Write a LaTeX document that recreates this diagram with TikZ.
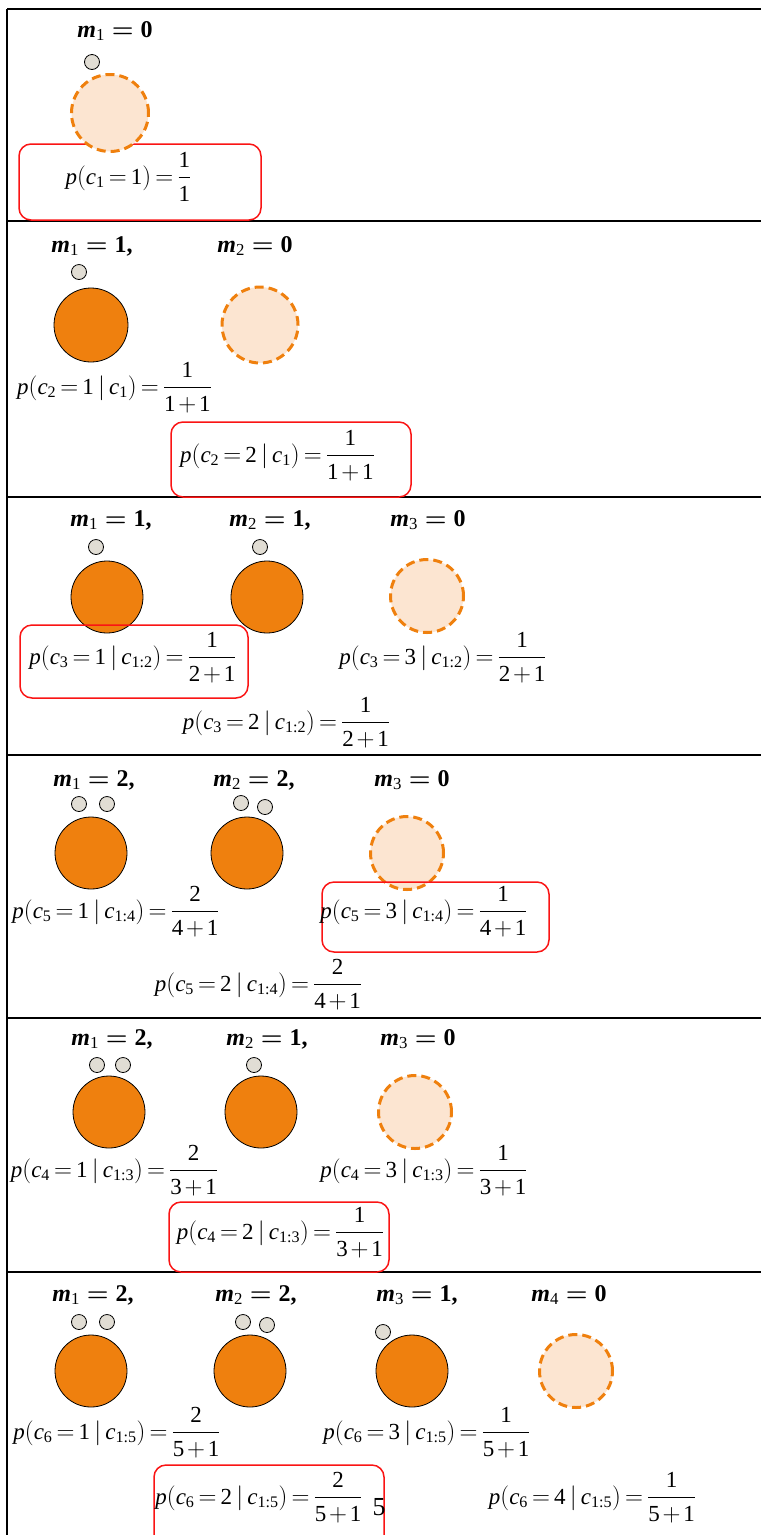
\documentclass[tikz,border=0pt]{standalone}
\usepackage{amsmath}
\usepackage{fontspec}
\setmainfont{Liberation Serif}
\definecolor{orng}{RGB}{239,128,14}
\definecolor{peach}{RGB}{252,229,209}
\definecolor{pebble}{RGB}{225,221,212}
\definecolor{boxred}{RGB}{250,20,20}
\newcommand{\I}[1]{\text{\itshape #1}}
\newcommand{\T}[1]{\text{#1}}
\newcommand{\hd}[2]{$\text{\bfseries\itshape m}_{\T{#1}}\mathrel{\boldsymbol{=}}\text{\bfseries #2}$}
\newcommand{\pc}[5]{$\thickmuskip=3mu\medmuskip=2mu\I{p}(\I{c}_{\T{#1}}=\T{#2}\,|\,\I{c}_{\T{#3}})=\dfrac{\T{#4}}{\T{#5}+\T{1}}$}
\tikzset{
 frame/.style={line width=1.2pt, black},
 solidc/.style={circle, draw=black, line width=0.8pt, fill=orng, inner sep=0pt, minimum size=72pt},
 newc/.style={circle, draw=orng, fill=peach, dash pattern=on 9pt off 5pt, line width=3pt, inner sep=0pt, minimum size=73pt},
 dot/.style={circle, draw=black, line width=0.8pt, fill=pebble, inner sep=0pt, minimum size=15pt},
 rbox/.style={draw=boxred, line width=1.5pt, rounded corners=12pt},
 lab/.style={font=\fontsize{24}{28}\selectfont, anchor=base, inner sep=0pt},
 eq/.style={font=\fontsize{23}{28}\selectfont, anchor=base, inner sep=0pt}
}
\begin{document}
\begin{tikzpicture}[x=1pt,y=-1pt]
\useasboundingbox (0,0) rectangle (761,1535);
% frame
\draw[frame] (7,9) -- (7,1535);
\foreach \yy in {9,221,497,755,1018,1272} \draw[frame] (7,\yy) -- (761,\yy);

% panel 1
\node[lab] (h11) at (115,37) {\hd{1}{0}};
\draw[rbox] (19,144) rectangle (261,220);
\node[dot] (d11) at (92,62) {};
\node[newc, minimum size=77pt] (n11) at (110,113) {};
\node[eq] (e11) at (128.5,184) {$\thickmuskip=3mu\I{p}(\I{c}_{\T{1}}=\T{1})=\dfrac{\T{1}}{\T{1}}$};

% panel 2
\node[lab] (h21) at (92,252) {\hd{1}{1,}};
\node[lab] (h22) at (255,252) {\hd{2}{0}};
\node[dot] (d21) at (79,272) {};
\node[solidc, minimum size=74pt] (s21) at (91,325) {};
\node[newc, minimum size=76pt] (n22) at (260,325) {};
\node[eq] (e21) at (114.5,394) {\pc{2}{1}{1}{1}{1}};
\draw[rbox] (171,422) rectangle (411,497);
\node[eq] (e22) at (277.5,462) {\pc{2}{2}{1}{1}{1}};

% panel 3
\node[lab] (h31) at (111,526) {\hd{1}{1,}};
\node[lab] (h32) at (270,526) {\hd{2}{1,}};
\node[lab] (h33) at (428,526) {\hd{3}{0}};
\node[dot] (d31) at (96,547) {};
\node[dot] (d32) at (260,547) {};
\node[solidc] (s31) at (107,597) {};
\node[solidc] (s32) at (267,597) {};
\node[newc] (n33) at (427,596) {};
\draw[rbox] (20,625) rectangle (248,698);
\node[eq] (e31) at (133,664) {\pc{3}{1}{1:2}{1}{2}};
\node[eq] (e33) at (443,664) {\pc{3}{3}{1:2}{1}{2}};
\node[eq] (e32) at (286.5,729) {\pc{3}{2}{1:2}{1}{2}};

% panel 4
\node[lab] (h41) at (94,786) {\hd{1}{2,}};
\node[lab] (h42) at (254,786) {\hd{2}{2,}};
\node[lab] (h43) at (412,786) {\hd{3}{0}};
\node[dot] (d41) at (79,804) {};
\node[dot] (d42) at (107,804) {};
\node[dot] (d43) at (241,803) {};
\node[dot] (d44) at (265,807) {};
\node[solidc] (s41) at (91,853) {};
\node[solidc] (s42) at (247,853) {};
\node[newc] (n43) at (407,853) {};
\draw[rbox] (322,882) rectangle (549,952);
\node[eq] (e41) at (116,918) {\pc{5}{1}{1:4}{2}{4}};
\node[eq] (e43) at (424,918) {\pc{5}{3}{1:4}{1}{4}};
\node[eq] (e42) at (258.5,991) {\pc{5}{2}{1:4}{2}{4}};

% panel 5
\node[lab] (h51) at (112,1045) {\hd{1}{2,}};
\node[lab] (h52) at (267,1045) {\hd{2}{1,}};
\node[lab] (h53) at (418,1045) {\hd{3}{0}};
\node[dot] (d51) at (97,1065) {};
\node[dot] (d52) at (123,1065) {};
\node[dot] (d53) at (254,1065) {};
\node[solidc] (s51) at (109,1112) {};
\node[solidc] (s52) at (261,1112) {};
\node[newc] (n53) at (415,1112) {};
\node[eq] (e51) at (114.5,1177) {\pc{4}{1}{1:3}{2}{3}};
\node[eq] (e53) at (424,1177) {\pc{4}{3}{1:3}{1}{3}};
\draw[rbox] (169,1202) rectangle (389,1272);
\node[eq] (e52) at (280.5,1239) {\pc{4}{2}{1:3}{1}{3}};

% panel 6
\node[lab] (h61) at (93,1301) {\hd{1}{2,}};
\node[lab] (h62) at (256,1301) {\hd{2}{2,}};
\node[lab] (h63) at (417,1301) {\hd{3}{1,}};
\node[lab] (h64) at (569,1301) {\hd{4}{0}};
\node[dot] (d61) at (79,1322) {};
\node[dot] (d62) at (107,1322) {};
\node[dot] (d63) at (243,1322) {};
\node[dot] (d64) at (267,1325) {};
\node[dot] (d65) at (383,1332) {};
\node[solidc] (s61) at (91,1371) {};
\node[solidc] (s62) at (250,1371) {};
\node[solidc] (s63) at (412,1371) {};
\node[newc] (n64) at (576,1371) {};
\node[eq] (e61) at (117,1439) {\pc{6}{1}{1:5}{2}{5}};
\node[eq] (e63) at (427,1439) {\pc{6}{3}{1:5}{1}{5}};
\begin{scope}
\clip (0,0) rectangle (761,1535);
\draw[rbox] (154,1465) rectangle (384,1560);
\end{scope}
\node[eq] (e62) at (259,1504) {\pc{6}{2}{1:5}{2}{5}};
\node[font=\fontsize{26}{30}\selectfont, anchor=base, inner sep=0pt] (pg) at (379,1515) {5};
\node[eq] (e64) at (592.5,1504) {\pc{6}{4}{1:5}{1}{5}};
\end{tikzpicture}
\end{document}
